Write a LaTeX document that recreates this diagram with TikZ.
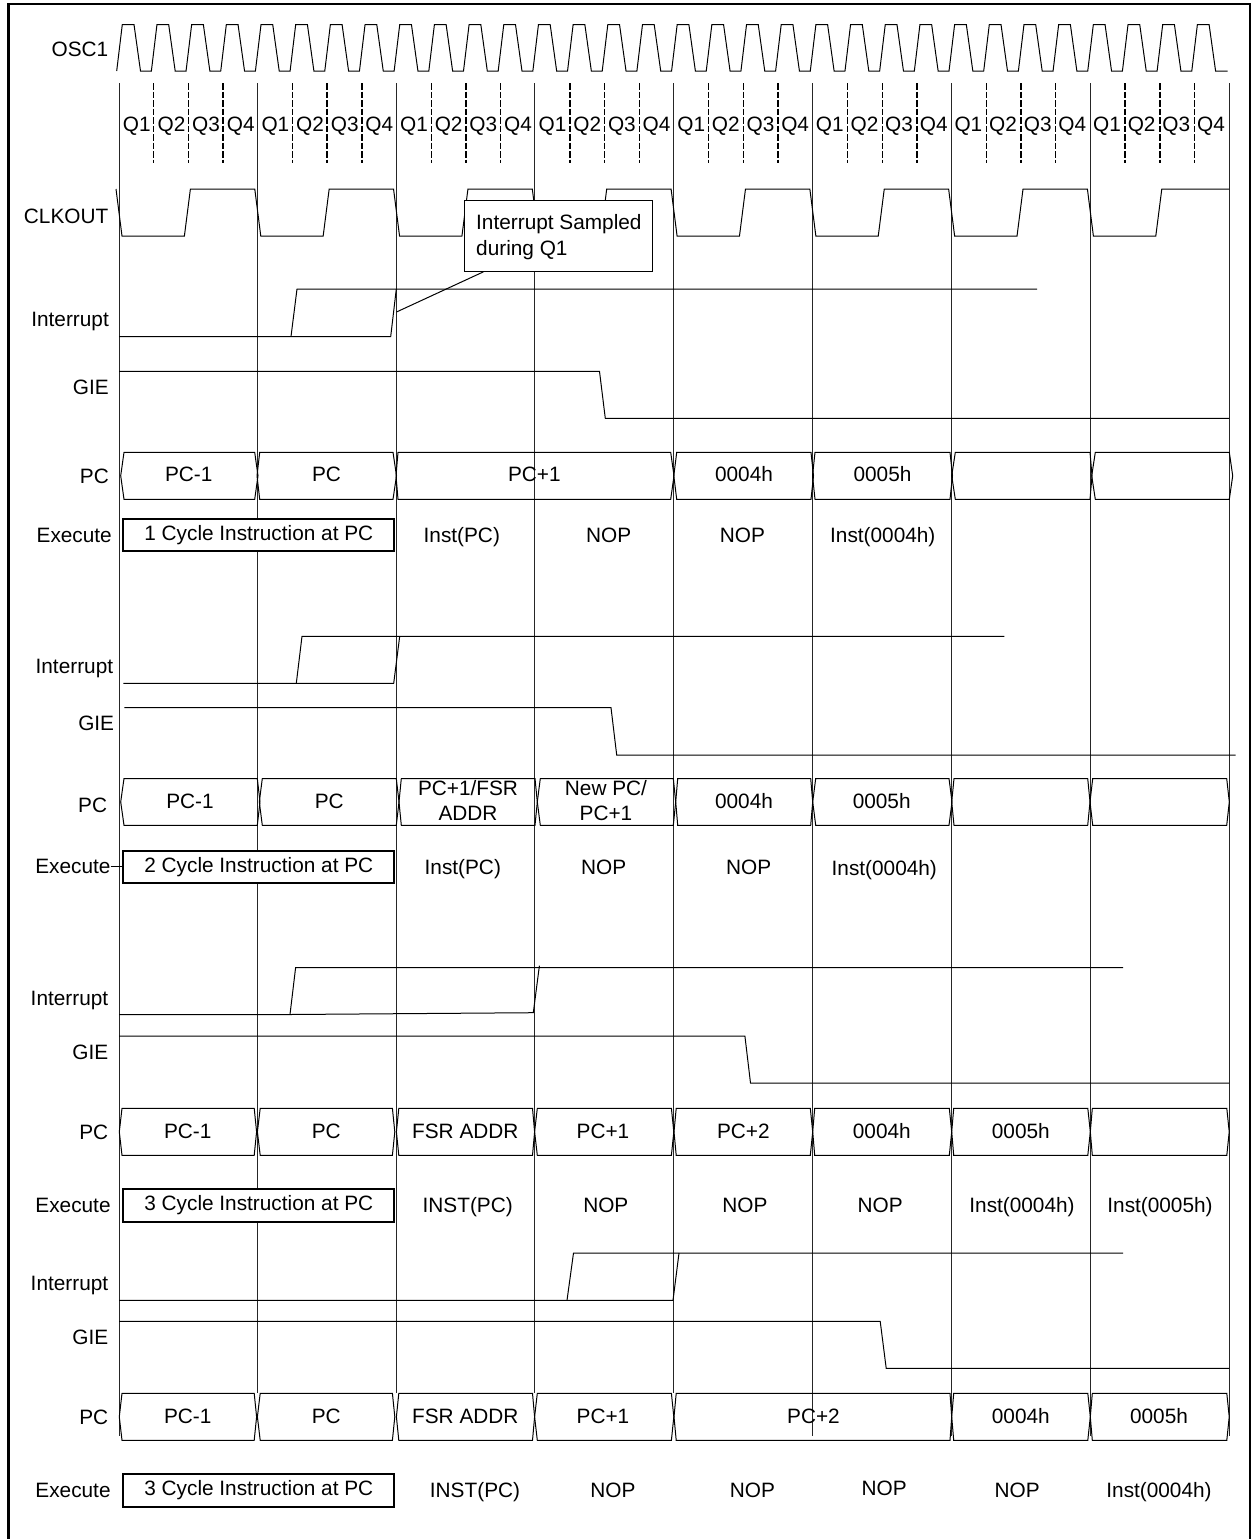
\documentclass[tikz,border=0pt]{standalone}
\usepackage{fontspec}
\setmainfont{Liberation Sans}
\newcount\tnum
\newcommand{\tx}[3]{\global\advance\tnum by 1 \node[lbl] (t\the\tnum) at ({#1},{#2+7.4}) {#3};}
\newcommand{\rt}[3]{\global\advance\tnum by 1 \node[lblr] (t\the\tnum) at ({#1},{#2+7.4}) {#3};}
\newcommand{\cells}[3]{\foreach \a/\b/\c/\d in {#3} {\draw[cellbox] ({\a},{(#1+#2)/2}) -- ({\b},#1) -- ({\c},#1) -- ({\d},{(#1+#2)/2}) -- ({\c},#2) -- ({\b},#2) -- cycle;}}
\newcommand{\tfont}{\fontsize{20.8}{25}\selectfont}
\tikzset{
  sig/.style={line width=1pt,black,line join=miter},
  grid line/.style={line width=1pt,black!85},
  qdash/.style={line width=1.4pt,black,dash pattern=on 6.5pt off 2pt},
  cellbox/.style={line width=1pt,black},
  execbox/.style={draw=black,line width=2pt,fill=white,inner sep=0pt,font=\tfont},
  noteb/.style={draw=black,line width=1pt,fill=white,inner sep=0pt},
  lbl/.style={anchor=base,inner sep=0pt,font=\tfont},
  lblr/.style={anchor=base east,inner sep=0pt,font=\tfont},
  two/.style={anchor=center,inner sep=0pt,align=center,font=\tfont},
}
\begin{document}
\begin{tikzpicture}[x=1pt,y=-1pt]
\useasboundingbox (0,0) rectangle (1258,1539);
% frame
\draw[line width=2.2pt,black] (8.5,1539) -- (8.5,4) -- (1250,4) -- (1250,1539);
% OSC1
\draw[sig] (116.7,71)
  \foreach \k in {0,...,31} { -- ({116.7+34.68*\k},71) -- ({122.3+34.68*\k},24.5) -- ({134+34.68*\k},24.5) -- ({140.5+34.68*\k},71) }
  -- (1227.7,71);
% verticals
\foreach \x/\e in {119/1436,257.7/1393,396.4/1393,534.9/1393,673.9/1393,812.7/1436,951.7/1436,1090.3/1436,1229.1/1436}
  \draw[grid line] (\x,83) -- (\x,\e);
% Q dashes
\foreach \c in {0,...,7} \foreach \j in {1,2,3}
  \draw[qdash] ({119+138.77*\c+34.7*\j},83) -- ({119+138.77*\c+34.7*\j},163);
% Q labels
\foreach \c in {0,...,7} {
  \foreach \j/\q in {0/Q1,1/Q2,2/Q3,3/Q4} {
    \node[lbl] (q\c\j) at ({136.8+138.6*\c+34.65*\j},{124+7.4}) {\q};
  }
}
% CLKOUT
\draw[sig] (116,189)
  \foreach \k in {0,...,7} { -- ({116+138.77*\k},189) -- ({122+138.77*\k},236) -- ({184.4+138.77*\k},236) -- ({190.4+138.77*\k},189) }
  -- (1229,189);
% Block 1
\draw[sig] (119,336.5) -- (390.7,336.5) -- (396.3,289);
\draw[sig] (291,336.5) -- (297,289) -- (1037,289);
\draw[sig] (119,371.4) -- (599.5,371.4) -- (605.3,418.4) -- (1229,418.4);
\cells{452.3}{499.3}{120.7/124/254.7/258, 257/259.7/393/396.5, 396/398/670.7/674, 673.8/676.7/811/813.5, 812.5/815/950/952.5, 951.7/955.3/1090/1092, 1091.7/1095.3/1229.3/1232.7}
% Block 2
\draw[sig] (123.3,683.3) -- (393.7,683.3) -- (399.7,636.3);
\draw[sig] (296.3,683.3) -- (302,636.3) -- (1004.3,636.3);
\draw[sig] (124.3,707.7) -- (611,707.7) -- (616.7,755) -- (1235.7,755);
\cells{778.5}{825.3}{120.7/124/257.3/260, 259.3/262.3/396.3/399, 399/401.3/535/537.3, 537.3/540.3/673.3/675.7, 675.7/677.7/810.7/812.7, 812.7/815.7/949/952, 951.7/954/1087.7/1090, 1090/1092.7/1226.7/1229.3}
% Block 3
\draw[sig] (119,1014.7) -- (290,1014.5) -- (533.3,1012.7) -- (539.4,965.7);
\draw[sig] (290,1014.5) -- (295.6,967.7) -- (1123,967.7);
\draw[sig] (119,1036) -- (744.9,1036) -- (750.5,1083) -- (1229,1083);
\cells{1108.3}{1155.3}{119.3/122/254.2/256.6, 257.4/260.2/392.4/394.8, 396.4/398.8/532.5/534.6, 534.6/537.3/671.4/673.8, 674/676.2/810.3/812.7, 812.7/814.7/949.3/951.7, 951.7/953.7/1087.8/1090.3, 1090.3/1092.3/1226.8/1229.2}
% Block 4
\draw[sig] (119,1300.3) -- (673,1300.3) -- (679,1253);
\draw[sig] (567,1300.3) -- (573.5,1253) -- (1123,1253);
\draw[sig] (119,1321.3) -- (880.2,1321.3) -- (886.2,1368.3) -- (1229,1368.3);
\cells{1393.3}{1440.3}{119.3/122/254.2/256.6, 257.4/260.2/392.4/394.8, 396.4/398.8/532.5/534.6, 534.6/537.3/671.4/673.8, 674/676.2/950/951.7, 951.7/953.7/1087.8/1090.3, 1090.3/1092.3/1226.8/1229.2}
% Execute boxes
\node[execbox,minimum width=271pt,minimum height=31.7pt] (ex1) at (258.8,534.8) {\raisebox{-1pt}{1 Cycle Instruction at PC}};
\node[execbox,minimum width=271pt,minimum height=32.3pt] (ex2) at (258.8,867.2) {\raisebox{-0.5pt}{2 Cycle Instruction at PC}};
\node[execbox,minimum width=271pt,minimum height=32.7pt] (ex3) at (258.8,1205.3) {\raisebox{-0.5pt}{3 Cycle Instruction at PC}};
\node[execbox,minimum width=271pt,minimum height=32.7pt] (ex4) at (258.8,1490.3) {\raisebox{-0.5pt}{3 Cycle Instruction at PC}};
% Callout
\node[noteb,minimum width=188.4pt,minimum height=70.6pt] (note) at (558.5,236) {};
\node[anchor=west,inner sep=0pt,align=left,font=\fontsize{20.8}{26}\selectfont] (notetext) at (476,237.5) {Interrupt Sampled\\during Q1};
\coordinate (noteEnd) at (396.5,312);
\draw[sig] ([xshift=19.7pt]note.south west) -- (noteEnd);
% Left labels
\rt{108.5}{49}{OSC1}
\rt{108.5}{216}{CLKOUT}
\rt{109}{319}{Interrupt}
\rt{109}{387}{GIE}
\rt{109}{476}{PC}
\rt{112}{535}{Execute}
\rt{113.3}{666}{Interrupt}
\rt{114.3}{722.7}{GIE}
\rt{107.3}{805}{PC}
\rt{110.7}{866}{Execute}
\rt{108.4}{997.7}{Interrupt}
\rt{108.4}{1051.7}{GIE}
\rt{108.4}{1132}{PC}
\rt{110.8}{1205}{Execute}
\rt{108.4}{1283}{Interrupt}
\rt{108.4}{1337}{GIE}
\rt{108.4}{1417}{PC}
\rt{110.8}{1489.7}{Execute}
\coordinate (exStub) at (110.7,866);
\draw[sig] (exStub) -- (ex2.west |- exStub);
% Row 1 text
\tx{188.8}{474.5}{PC-1}
\tx{326.5}{474.5}{PC}
\tx{534.3}{474.5}{PC+1}
\tx{744}{474.5}{0004h}
\tx{882.5}{474.5}{0005h}
\tx{461.8}{535.5}{Inst(PC)}
\tx{608.7}{535}{NOP}
\tx{742.5}{535}{NOP}
\tx{882.8}{535.5}{Inst(0004h)}
% Row 2 text
\tx{190}{801}{PC-1}
\tx{329.3}{801}{PC}
\node[two] (pc2a) at (468,800.5) {PC+1/FSR\\ADDR};
\node[two] (pc2b) at (606,800.5) {New PC/\\PC+1};
\tx{744}{801}{0004h}
\tx{881.7}{801.5}{0005h}
\tx{462.8}{867.5}{Inst(PC)}
\tx{603.7}{866.7}{NOP}
\tx{748.7}{866.7}{NOP}
\tx{884.3}{868}{Inst(0004h)}
% Row 3 text
\tx{187.8}{1131}{PC-1}
\tx{326.3}{1131}{PC}
\tx{465.3}{1131}{FSR ADDR}
\tx{603}{1131}{PC+1}
\tx{743.3}{1131}{PC+2}
\tx{881.8}{1131}{0004h}
\tx{1020.8}{1131}{0005h}
\tx{467.7}{1205}{INST(PC)}
\tx{605.8}{1205}{NOP}
\tx{745}{1205}{NOP}
\tx{880.2}{1205}{NOP}
\tx{1022}{1205}{Inst(0004h)}
\tx{1160}{1205}{Inst(0005h)}
% Row 4 text
\tx{187.8}{1415.7}{PC-1}
\tx{326.3}{1415.7}{PC}
\tx{465.3}{1415.7}{FSR ADDR}
\tx{603}{1415.7}{PC+1}
\tx{813.5}{1415.7}{PC+2}
\tx{1020.8}{1415.7}{0004h}
\tx{1159}{1415.7}{0005h}
\tx{475}{1489.7}{INST(PC)}
\tx{613}{1489.7}{NOP}
\tx{752.5}{1489.7}{NOP}
\tx{884.2}{1488}{NOP}
\tx{1017.2}{1489.7}{NOP}
\tx{1159}{1490}{Inst(0004h)}
\end{tikzpicture}
\end{document}
